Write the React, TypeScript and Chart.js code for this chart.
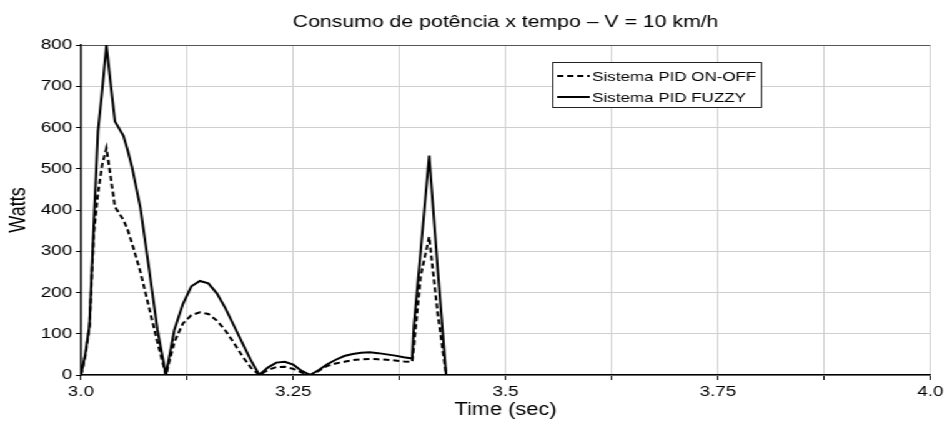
import React, { useEffect, useRef } from "react";
import { Chart, registerables } from "chart.js";

Chart.register(...registerables);

// ---- data ----
const timeSec = [
  3.0, 3.005, 3.01, 3.015, 3.02, 3.025, 3.03, 3.035, 3.04, 3.05, 3.055, 3.06, 3.07, 3.08, 3.09,
  3.1, 3.11, 3.12, 3.13, 3.14, 3.15, 3.16, 3.17, 3.18, 3.19, 3.2,
  3.21, 3.22, 3.23, 3.24, 3.25, 3.26, 3.27,
  3.28, 3.29, 3.3, 3.31, 3.32, 3.33, 3.34, 3.35, 3.36, 3.37, 3.38, 3.39,
  3.392, 3.4, 3.41, 3.42, 3.43, 4.0,
];
const onOffWatts = [
  0, 45, 115, 340, 440, 510, 550, 480, 408, 376, 352, 320, 250, 165, 80,
  0, 80, 125, 145, 152, 148, 132, 108, 78, 46, 18,
  0, 12, 19, 20, 15, 6, 0,
  10, 22, 28, 32, 36, 38, 39, 38, 37, 35, 33, 32,
  70, 240, 335, 150, 0, 0,
];
const fuzzyWatts = [
  0, 50, 120, 360, 590, 690, 800, 705, 615, 580, 545, 505, 405, 260, 110,
  0, 110, 172, 215, 228, 222, 198, 162, 120, 78, 36,
  0, 18, 30, 32, 25, 10, 0,
  12, 26, 37, 46, 51, 54, 55, 53, 50, 47, 43, 40,
  118, 300, 532, 258, 0, 0,
];
const seriesLabels = ["Sistema PID ON-OFF", "Sistema PID FUZZY"];
const xTickValues = [3.0, 3.25, 3.5, 3.75, 4.0];
const xTickLabels = ["3.0", "3.25", "3.5", "3.75", "4.0"];
const yTickValues = [0, 100, 200, 300, 400, 500, 600, 700, 800];
const yTickLabels = ["0", "100", "200", "300", "400", "500", "600", "700", "800"];
const chartTitle = "Consumo de potência x tempo – V = 10 km/h";
const xTitle = "Time (sec)";
const yTitle = "Watts";

// ---- layout / style ----
const FONT = "'Liberation Sans', Arial, Helvetica, sans-serif";
const W0 = 758;
const H0 = 422;
const SX = 947 / W0;

const titleCenterPlugin = {
  id: "titleCenter",
  afterLayout(chart: any) {
    const t = chart.titleBlock;
    if (t) {
      t.left = chart.chartArea.left;
      t.right = chart.chartArea.right;
      t.width = t.right - t.left;
    }
  },
};

const legendBoxPlugin = {
  id: "legendBox",
  afterDatasetsDraw(chart: any) {
    const ctx = chart.ctx;
    const x = 442;
    const y = 62;
    const w = 167;
    const h = 45;
    ctx.save();
    ctx.fillStyle = "#ffffff";
    ctx.fillRect(x, y, w, h);
    ctx.strokeStyle = "#222";
    ctx.lineWidth = 1;
    ctx.strokeRect(x + 0.5, y + 0.5, w, h);
    chart.data.datasets.forEach((ds: any, i: number) => {
      const ly = y + 14 + i * 21;
      ctx.beginPath();
      ctx.setLineDash(ds.borderDash || []);
      ctx.lineWidth = ds.borderWidth;
      ctx.strokeStyle = ds.borderColor;
      ctx.moveTo(x + 4, ly);
      ctx.lineTo(x + 30, ly);
      ctx.stroke();
      ctx.setLineDash([]);
      ctx.fillStyle = "#000";
      ctx.font = `13.6px ${FONT}`;
      ctx.textBaseline = "middle";
      ctx.textAlign = "left";
      ctx.fillText(ds.label, x + 32, ly + 1);
    });
    ctx.restore();
  },
};

function labelFor(v: number, values: number[], labels: string[]) {
  for (let i = 0; i < values.length; i++) {
    if (Math.abs(values[i] - v) < 1e-6) return labels[i];
  }
  return "";
}

export default function App() {
  const ref = useRef<HTMLCanvasElement | null>(null);

  useEffect(() => {
    if (!ref.current) return;
    Chart.defaults.font.family = FONT;
    const chart = new Chart(ref.current, {
      type: "line",
      data: {
        datasets: [
          {
            label: seriesLabels[0],
            data: timeSec.map((t, i) => ({ x: t, y: onOffWatts[i] })),
            borderColor: "#000",
            borderWidth: 2,
            borderDash: [5, 3],
            pointRadius: 0,
            fill: false,
            tension: 0,
          },
          {
            label: seriesLabels[1],
            data: timeSec.map((t, i) => ({ x: t, y: fuzzyWatts[i] })),
            borderColor: "#000",
            borderWidth: 2,
            pointRadius: 0,
            fill: false,
            tension: 0,
          },
        ],
      },
      options: {
        animation: false,
        responsive: true,
        maintainAspectRatio: false,
        layout: { padding: { left: 0, right: 10.4, top: 0, bottom: 0 } },
        plugins: {
          legend: { display: false },
          tooltip: { enabled: false },
          title: {
            display: true,
            text: chartTitle,
            color: "#000",
            font: { size: 17, family: FONT, weight: "normal" },
            padding: { top: 12, bottom: 12.6 },
          },
        },
        scales: {
          x: {
            type: "linear",
            min: 3,
            max: 4,
            afterFit: (s: any) => {
              s.height = 47;
            },
            ticks: {
              stepSize: 0.125,
              autoSkip: false,
              maxRotation: 0,
              padding: 3,
              color: "#000",
              font: { size: 15, family: FONT },
              callback: (v: any) => labelFor(Number(v), xTickValues, xTickLabels),
            },
            grid: { color: "#cfcfcf", tickColor: "#000", tickLength: 5, lineWidth: 1 },
            border: { color: "#000", width: 1.5 },
            title: {
              display: true,
              text: xTitle,
              color: "#000",
              font: { size: 17.5, family: FONT },
              padding: { top: 0, bottom: 1 },
            },
          },
          y: {
            type: "linear",
            min: 0,
            max: 800,
            afterFit: (s: any) => {
              s.width = 64.8;
            },
            ticks: {
              stepSize: 50,
              padding: 3,
              color: "#000",
              font: { size: 15, family: FONT },
              callback: (v: any) => labelFor(Number(v), yTickValues, yTickLabels),
            },
            grid: {
              color: (c: any) => (c.tick && c.tick.value === 800 ? "#555" : "#cfcfcf"),
              tickColor: "#000",
              tickLength: 4,
              lineWidth: 1,
            },
            border: { color: "#000", width: 1.5 },
            title: {
              display: true,
              text: yTitle,
              color: "#000",
              font: { size: 18, family: FONT },
              padding: { top: 4, bottom: 0 },
            },
          },
        },
      } as any,
      plugins: [titleCenterPlugin, legendBoxPlugin],
    });
    return () => chart.destroy();
  }, []);

  return (
    <div
      style={{
        position: "fixed",
        left: 0,
        top: 0,
        width: W0,
        height: H0,
        transform: `scaleX(${SX})`,
        transformOrigin: "0 0",
        background: "#fff",
      }}
    >
      <canvas ref={ref} />
    </div>
  );
}
